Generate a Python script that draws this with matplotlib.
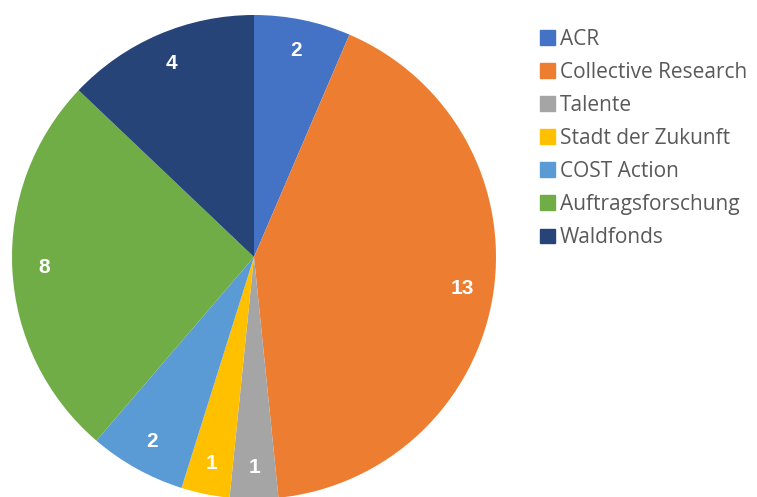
import matplotlib.pyplot as plt
import matplotlib.patches as mpatches

# Daten
kategorien = ["ACR", "Collective Research", "Talente", "Stadt der Zukunft",
              "COST Action", "Auftragsforschung", "Waldfonds"]
anzahl = [2, 13, 1, 1, 2, 8, 4]
farben = ["#4472C4", "#ED7D31", "#A5A5A5", "#FFC000", "#5B9BD5", "#70AD47", "#264478"]

W, H = 757, 497
fig = plt.figure(figsize=(W / 100, H / 100), dpi=100)

# Kreis: Mitte (254, 257) px, Radius 242 px
cx, cy, r = 254, 257, 242
ax = fig.add_axes([(cx - r) / W, (H - cy - r) / H, 2 * r / W, 2 * r / H])

wedges, texts, autotexts = ax.pie(
    anzahl,
    colors=farben,
    startangle=90,
    counterclock=False,
    autopct=lambda p: f"{p * sum(anzahl) / 100:.0f}",
    pctdistance=0.87,
    wedgeprops=dict(linewidth=0),
    textprops=dict(color="white", fontsize=15, fontweight="bold",
                   family="Liberation Sans"),
)
ax.set_xlim(-1, 1)
ax.set_ylim(-1, 1)
ax.set_aspect("equal")
ax.axis("off")

handles = [mpatches.Patch(color=c, label=k) for k, c in zip(kategorien, farben)]
fig.legend(
    handles=handles,
    loc="upper left",
    bbox_to_anchor=(521 / W, 1 - 10 / H),
    frameon=False,
    prop=dict(family="Open Sans", size=15),
    handlelength=0.72,
    handleheight=0.72,
    handletextpad=0.25,
    labelspacing=0.58,
    labelcolor="#595959",
)

fig.savefig("out.png", dpi=100)
